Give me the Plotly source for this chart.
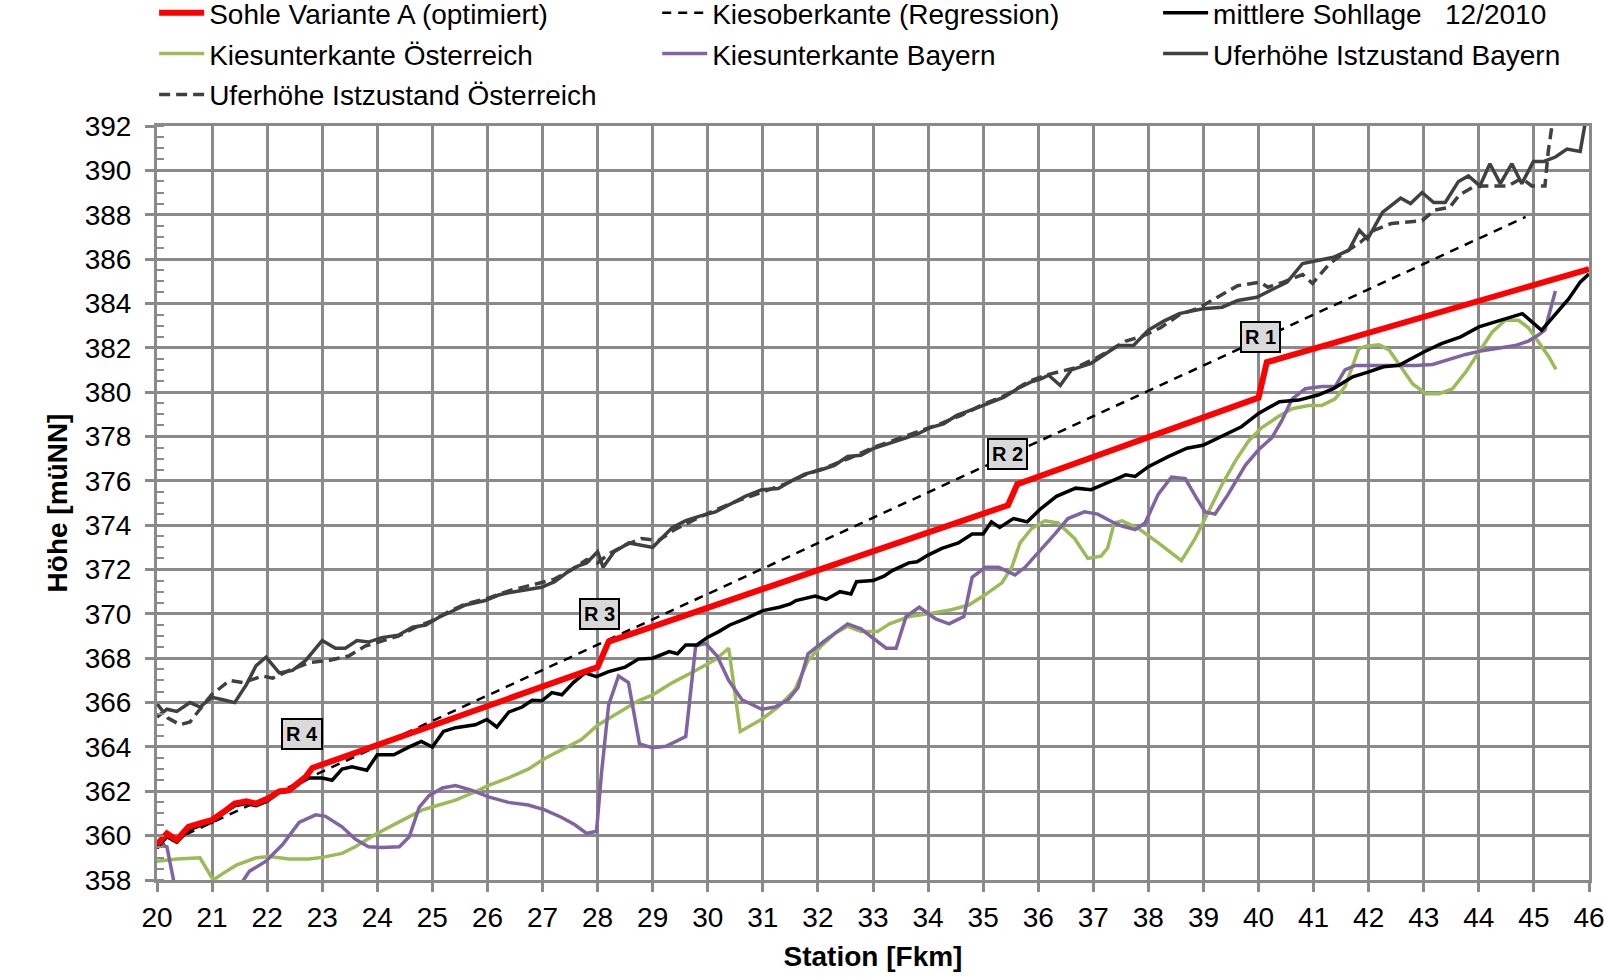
import plotly.graph_objects as go

# ---------------- data ----------------
red_x = [20.0, 20.18, 20.36, 20.57, 20.78, 20.99, 21.2, 21.41, 21.62, 21.8, 22.0, 22.22, 22.4, 22.58, 22.7, 22.82,
         28.0, 28.2, 35.45, 35.62, 40.0, 40.15, 46.0]
red_y = [359.6, 360.1, 359.8, 360.4, 360.55, 360.7, 361.05, 361.45, 361.55, 361.45, 361.65, 362.0, 362.05, 362.4, 362.65, 363.05,
         367.6, 368.75, 374.9, 375.85, 379.75, 381.35, 385.55]

reg_x = [20.0, 44.85]
reg_y = [359.45, 387.9]

black_x = [20.0, 20.18, 20.36, 20.57, 20.78, 20.99, 21.2, 21.41, 21.62, 21.8, 22.0, 22.22, 22.4, 22.58, 22.76,
           23.0, 23.18, 23.36, 23.54, 23.81, 24.0, 24.3, 24.58, 24.8, 25.0, 25.2, 25.42, 25.78, 25.99, 26.17,
           26.39, 26.63, 26.81, 26.99, 27.17, 27.35, 27.56, 27.77, 27.98, 28.2, 28.5, 28.74, 29.0, 29.3, 29.45,
           29.6, 29.8, 30.0, 30.2, 30.4, 30.7, 31.0, 31.3, 31.5, 31.6, 31.95, 32.15, 32.4, 32.6, 32.7, 33.0,
           33.2, 33.35, 33.65, 33.8, 34.0, 34.25, 34.55, 34.8, 35.0, 35.15, 35.3, 35.55, 35.8, 36.05, 36.33,
           36.68, 36.96, 37.31, 37.59, 37.76, 38.0, 38.36, 38.7, 38.99, 39.34, 39.69, 40.0, 40.38, 40.73, 41.08,
           41.36, 41.71, 42.0, 42.27, 42.55, 42.83, 43.0, 43.32, 43.67, 44.0, 44.3, 44.58, 44.79, 45.0, 45.14,
           45.35, 45.63, 45.84, 46.0]
black_y = [359.45, 359.95, 359.7, 360.25, 360.45, 360.6, 361.0, 361.35, 361.45, 361.35, 361.55, 361.95, 362.0, 362.35, 362.6,
           362.6, 362.5, 363.0, 363.1, 362.95, 363.65, 363.65, 364.0, 364.25, 364.0, 364.7, 364.87, 365.0, 365.24, 364.9,
           365.58, 365.8, 366.1, 366.08, 366.45, 366.35, 366.9, 367.34, 367.17, 367.4, 367.6, 367.96, 368.0, 368.3, 368.2,
           368.6, 368.6, 368.95, 369.2, 369.5, 369.8, 370.15, 370.3, 370.45, 370.6, 370.8, 370.65, 371.0, 370.9, 371.45, 371.5,
           371.7, 371.95, 372.3, 372.35, 372.65, 372.95, 373.2, 373.6, 373.6, 374.15, 373.9, 374.3, 374.15, 374.75, 375.3,
           375.67, 375.6, 375.97, 376.27, 376.2, 376.64, 377.09, 377.47, 377.6, 378.0, 378.44, 379.04, 379.57, 379.64, 379.87,
           380.16, 380.69, 380.91, 381.14, 381.21, 381.59, 381.81, 382.19, 382.49, 382.94, 383.16, 383.39, 383.54, 383.09, 382.79,
           383.39, 384.2, 384.96, 385.33]

green_x = [20.0, 20.36, 20.78, 21.02, 21.2, 21.44, 21.8, 22.04, 22.4, 22.76, 23.0, 23.36, 23.6, 23.96, 24.38,
           24.82, 25.12, 25.42, 25.78, 26.02, 26.38, 26.74, 27.04, 27.4, 27.7, 28.0, 28.32, 28.74, 29.0, 29.36,
           29.78, 30.14, 30.38, 30.59, 30.98, 31.28, 31.58, 31.82, 32.06, 32.3, 32.54, 32.78, 33.08, 33.3, 33.66,
           34.0, 34.44, 34.74, 35.04, 35.34, 35.52, 35.67, 35.88, 36.12, 36.36, 36.66, 36.9, 37.14, 37.26, 37.38,
           37.52, 37.82, 38.18, 38.6, 38.85, 39.09, 39.33, 39.58, 39.82, 40.06, 40.36, 40.61, 40.91, 41.15, 41.39,
           41.57, 41.7, 41.82, 41.95, 42.19, 42.37, 42.55, 42.8, 43.04, 43.28, 43.52, 43.76, 44.0, 44.24, 44.48,
           44.72, 44.9, 45.08, 45.27, 45.4]
green_y = [358.85, 358.95, 359.0, 358.0, 358.3, 358.67, 359.0, 359.06, 358.95, 358.95, 359.02, 359.2, 359.5, 360.05, 360.6,
           361.16, 361.38, 361.6, 361.98, 362.27, 362.6, 363.0, 363.48, 363.92, 364.32, 364.98, 365.46, 366.08, 366.35, 366.9,
           367.45, 367.94, 368.45, 364.7, 365.25, 365.8, 366.57, 367.9, 368.55, 369.1, 369.44, 369.2, 369.2, 369.55, 369.88,
           370.0, 370.2, 370.4, 370.87, 371.4, 372.1, 373.2, 373.85, 374.2, 374.1, 373.4, 372.5, 372.6, 372.97, 374.1,
           374.2, 373.85, 373.2, 372.4, 373.4, 374.6, 375.8, 376.9, 377.8, 378.4, 378.9, 379.25, 379.4, 379.4, 379.7,
           380.25, 381.1, 381.95, 382.07, 382.13, 381.9, 381.25, 380.37, 379.93, 379.93, 380.15, 380.9, 381.8, 382.7, 383.24,
           383.24, 382.9, 382.24, 381.6, 381.03]

purple_x = [20.0, 20.18, 20.5, 21.0, 21.3, 21.68, 21.98, 22.28, 22.58, 22.88, 23.06, 23.36, 23.6, 23.84, 24.08,
            24.4, 24.58, 24.76, 24.94, 25.18, 25.42, 25.72, 26.02, 26.38, 26.74, 27.04, 27.34, 27.58, 27.8, 27.98,
            28.07, 28.2, 28.38, 28.56, 28.76, 29.0, 29.24, 29.6, 29.78, 29.96, 30.17, 30.38, 30.62, 30.98, 31.22,
            31.46, 31.64, 31.82, 32.12, 32.3, 32.54, 32.78, 33.0, 33.24, 33.42, 33.6, 33.84, 34.14, 34.38, 34.65,
            34.8, 35.04, 35.28, 35.58, 35.76, 36.0, 36.3, 36.54, 36.84, 37.08, 37.38, 37.52, 37.76, 37.94, 38.18,
            38.42, 38.67, 38.88, 39.03, 39.21, 39.45, 39.76, 40.0, 40.24, 40.42, 40.61, 40.85, 41.15, 41.39, 41.57,
            41.76, 42.25, 42.86, 43.16, 43.46, 43.76, 44.06, 44.36, 44.66, 44.9, 45.08, 45.2, 45.3, 45.39]
purple_y = [359.6, 359.5, 355.5, 355.0, 357.0, 358.4, 358.85, 359.6, 360.6, 360.94, 360.87, 360.4, 359.84, 359.5, 359.46,
            359.5, 359.95, 361.27, 361.8, 362.15, 362.26, 362.04, 361.75, 361.5, 361.38, 361.16, 360.83, 360.5, 360.1, 360.2,
            362.8, 365.9, 367.2, 366.9, 364.14, 363.96, 364.03, 364.47, 368.55, 368.67, 368.1, 367.0, 366.13, 365.7, 365.8,
            366.13, 366.68, 368.2, 368.78, 369.1, 369.55, 369.33, 368.9, 368.45, 368.45, 369.88, 370.3, 369.77, 369.55, 369.88,
            371.65, 372.1, 372.1, 371.76, 372.1, 372.75, 373.6, 374.3, 374.6, 374.5, 374.1, 373.96, 373.8, 374.1, 375.4,
            376.17, 376.1, 375.2, 374.6, 374.5, 375.4, 376.7, 377.4, 377.94, 378.7, 379.7, 380.15, 380.25, 380.25, 381.0,
            381.2, 381.2, 381.2, 381.25, 381.47, 381.7, 381.87, 382.0, 382.1, 382.3, 382.57, 382.8, 383.8, 384.56]

bay_x = [20.0, 20.18, 20.36, 20.6, 20.78, 21.0, 21.2, 21.41, 21.62, 21.8, 21.98, 22.22, 22.46, 22.7, 23.0,
         23.24, 23.42, 23.63, 23.84, 24.08, 24.38, 24.64, 24.88, 25.12, 25.3, 25.6, 25.96, 26.2, 26.38, 26.74,
         26.98, 27.22, 27.46, 27.64, 27.8, 28.0, 28.1, 28.3, 28.57, 29.0, 29.36, 29.6, 29.84, 30.14, 30.44,
         30.68, 30.98, 31.28, 31.52, 31.76, 32.06, 32.3, 32.54, 32.78, 33.0, 33.33, 33.56, 33.8, 34.04, 34.28,
         34.52, 34.9, 35.14, 35.38, 35.62, 35.86, 36.05, 36.19, 36.4, 36.6, 36.96, 37.24, 37.45, 37.73, 38.0,
         38.28, 38.56, 38.99, 39.34, 39.62, 39.97, 40.33, 40.52, 40.8, 41.08, 41.36, 41.64, 41.83, 41.98, 42.25,
         42.58, 42.76, 42.97, 43.18, 43.39, 43.63, 43.81, 44.02, 44.2, 44.39, 44.6, 44.78, 44.99, 45.18, 45.39,
         45.6, 45.84, 45.95]
bay_y = [365.35, 365.7, 365.6, 366.0, 365.8, 366.24, 366.13, 366.0, 366.8, 367.67, 368.05, 367.34, 367.45, 367.9, 368.8,
         368.45, 368.45, 368.8, 368.73, 368.93, 369.04, 369.4, 369.5, 369.85, 370.05, 370.4, 370.6, 370.85, 370.95, 371.1,
         371.2, 371.45, 371.9, 372.15, 372.3, 372.8, 372.1, 372.8, 373.2, 373.0, 373.9, 374.2, 374.4, 374.6, 375.0,
         375.3, 375.6, 375.65, 376.0, 376.3, 376.5, 376.7, 377.1, 377.15, 377.45, 377.7, 377.9, 378.1, 378.4, 378.57,
         378.95, 379.3, 379.55, 379.77, 380.15, 380.45, 380.6, 380.76, 380.3, 381.0, 381.3, 381.74, 382.1, 382.1, 382.8,
         383.2, 383.54, 383.76, 383.83, 384.13, 384.28, 384.73, 384.96, 385.8, 385.93, 386.08, 386.4, 387.3, 386.9, 388.1,
         388.75, 388.5, 389.0, 388.55, 388.55, 389.5, 389.75, 389.3, 390.3, 389.4, 390.3, 389.4, 390.4, 390.4, 390.6,
         390.96, 390.85, 392.4]

oes_x = [20.0, 20.2, 20.42, 20.6, 20.78, 20.99, 21.32, 21.56, 21.92, 22.1, 22.4, 22.76, 23.12, 23.48, 23.78,
         24.38, 24.7, 25.0, 25.3, 25.6, 26.0, 26.4, 26.8, 27.2, 27.5, 27.8, 28.0, 28.2, 28.5, 28.8,
         29.1, 29.4, 29.8, 30.2, 30.6, 31.0, 31.4, 31.8, 32.2, 32.6, 33.0, 33.4, 33.8, 34.2, 34.6,
         35.0, 35.4, 35.84, 36.19, 36.68, 37.1, 37.59, 37.87, 38.22, 38.57, 38.92, 39.27, 39.62, 40.03, 40.17,
         40.45, 40.8, 40.98, 41.29, 41.57, 41.85, 42.1, 42.41, 42.97, 43.19, 43.47, 43.65, 43.93, 44.23, 44.53,
         44.78, 44.96, 45.2, 45.26, 45.35]
oes_y = [365.95, 365.3, 365.0, 365.13, 365.7, 366.35, 367.0, 366.9, 367.2, 367.1, 367.45, 367.8, 367.9, 368.1, 368.55,
         369.0, 369.4, 369.7, 370.1, 370.45, 370.7, 371.05, 371.3, 371.55, 371.95, 372.45, 372.3, 372.7, 373.1, 373.4,
         373.3, 373.8, 374.3, 374.75, 375.15, 375.5, 375.85, 376.3, 376.65, 377.05, 377.5, 377.85, 378.2, 378.55, 378.95,
         379.45, 379.85, 380.5, 380.8, 381.1, 381.6, 382.3, 382.5, 382.9, 383.5, 383.8, 384.3, 384.8, 384.96, 384.73,
         384.96, 385.3, 384.9, 385.8, 386.3, 386.76, 387.3, 387.6, 387.73, 388.2, 388.33, 388.9, 389.3, 389.3, 389.3,
         389.64, 389.3, 389.3, 390.85, 392.4]

marker_labels = ["R 1", "R 2", "R 3", "R 4"]
marker_x = [40.04, 35.45, 28.04, 22.63]
marker_y = [382.5, 377.2, 370.0, 364.6]

x_ticks = list(range(20, 47))
y_ticks = list(range(358, 393, 2))

# ---------------- figure ----------------
FONT = "Liberation Sans, Arial, sans-serif"
GRID = "#8a8a8a"

fig = go.Figure()

# draw order: bank heights, regression, gravel bottoms, mean bed, variant A
# legend columns: legend (left), legend2 (middle), legend3 (right)
fig.add_trace(go.Scatter(x=bay_x, y=bay_y, mode="lines", name="Uferhöhe Istzustand Bayern",
                         line=dict(color="#404040", width=3.5), legend="legend3", legendrank=2,
                         legendgroup="g6"))
fig.add_trace(go.Scatter(x=oes_x, y=oes_y, mode="lines", name="Uferhöhe Istzustand Österreich",
                         line=dict(color="#404040", width=3.5, dash="11px,6px"), legend="legend", legendrank=3,
                         legendgroup="g7"))
fig.add_trace(go.Scatter(x=reg_x, y=reg_y, mode="lines", name="Kiesoberkante (Regression)",
                         line=dict(color="#000000", width=2.5, dash="9px,7px"), legend="legend2", legendrank=1,
                         legendgroup="g2"))
fig.add_trace(go.Scatter(x=green_x, y=green_y, mode="lines", name="Kiesunterkante Österreich",
                         line=dict(color="#9bbb59", width=3.5), legend="legend", legendrank=2,
                         legendgroup="g4"))
fig.add_trace(go.Scatter(x=purple_x, y=purple_y, mode="lines", name="Kiesunterkante Bayern",
                         line=dict(color="#8064a2", width=3.5), legend="legend2", legendrank=2,
                         legendgroup="g5"))
fig.add_trace(go.Scatter(x=black_x, y=black_y, mode="lines", name="mittlere Sohllage   12/2010",
                         line=dict(color="#000000", width=3.5), legend="legend3", legendrank=1,
                         legendgroup="g3"))
fig.add_trace(go.Scatter(x=red_x, y=red_y, mode="lines", name="Sohle Variante A (optimiert)",
                         line=dict(color="#ff0000", width=6), legend="legend", legendrank=1,
                         legendgroup="g1"))

for lab, mx, my in zip(marker_labels, marker_x, marker_y):
    fig.add_annotation(x=mx, y=my, xref="x", yref="y", text="<b>" + lab + "</b>", showarrow=False,
                       font=dict(family=FONT, size=20, color="#000000"),
                       bgcolor="#d9d9d9", bordercolor="#000000", borderwidth=2, borderpad=3)

legend_common = dict(orientation="v", xref="paper", yref="paper", y=1.183,
                     xanchor="left", yanchor="top", itemwidth=45,
                     font=dict(family=FONT, size=28), traceorder="grouped",
                     bgcolor="rgba(0,0,0,0)", tracegroupgap=1.5)

fig.update_layout(
    width=1604, height=978,
    paper_bgcolor="white", plot_bgcolor="white",
    margin=dict(l=157, r=15, t=126, b=98, autoexpand=False),
    font=dict(family=FONT, size=28, color="#000000"),
    showlegend=True,
    legend=dict(x=-0.002, **legend_common),
    legend2=dict(x=0.3493, **legend_common),
    legend3=dict(x=0.6991, **legend_common),
    xaxis=dict(range=[20, 46], tickvals=x_ticks, showgrid=True, gridcolor=GRID, gridwidth=2.5,
               showline=True, linecolor=GRID, linewidth=3, mirror=True, automargin=False,
               ticks="outside", ticklen=9, tickwidth=2.5, tickcolor=GRID, ticklabelstandoff=1,
               ticklabeloverflow="allow",
               tickfont=dict(family=FONT, size=28), zeroline=False,
               title=dict(text="<b>Station [Fkm]</b>", font=dict(family=FONT, size=28), standoff=15)),
    yaxis=dict(range=[358, 392], tickvals=y_ticks, showgrid=True, gridcolor=GRID, gridwidth=2.5,
               showline=True, linecolor=GRID, linewidth=3, mirror=True, automargin=False,
               ticks="outside", ticklen=9, tickwidth=2.5, tickcolor=GRID, ticklabelstandoff=8,
               tickfont=dict(family=FONT, size=28), zeroline=False,
               minor=dict(dtick=0.5, ticks="inside", ticklen=7, tickcolor=GRID, tickwidth=1.5, showgrid=False),
               title=dict(text="<b>Höhe [müNN]</b>", font=dict(family=FONT, size=28), standoff=9)),
)

fig.write_html("out.html", config={"displayModeBar": False},
               post_script="document.body.style.margin='0';document.body.style.overflow='hidden';")
